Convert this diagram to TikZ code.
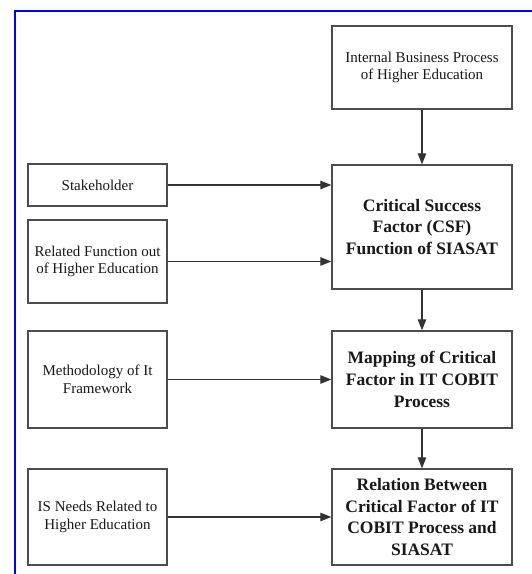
\documentclass[tikz,border=0pt]{standalone}
\usepackage{fontspec}
\setmainfont{Liberation Serif}
\usetikzlibrary{arrows.meta}
\begin{document}
\begin{tikzpicture}[x=1pt,y=-1pt,
  box/.style={draw=gray!60!black, line width=1.3pt, align=center, inner sep=0pt, text=black!90},
  lbox/.style={box, minimum width=139pt, font=\fontsize{15}{17.5}\selectfont},
  rbox/.style={box, minimum width=180pt, font=\fontsize{17.5}{21.7}\selectfont\bfseries},
  arr/.style={draw=black!80, line width=1.1pt, -{Triangle[length=11pt,width=8.5pt]}}]
\useasboundingbox (0,0) rectangle (532,574);
\fill[white] (0,0) rectangle (532,574);
\draw[blue, line width=2pt] (14.5,575) -- (14.5,10.5) -- (533,10.5);

\node[lbox, minimum width=180pt, minimum height=83pt] (ibp) at (422,67.5) {Internal Business Process\\of Higher Education};
\node[rbox, minimum height=124pt] (csf) at (422,227) {Critical Success\\Factor (CSF)\\Function of SIASAT};
\node[rbox, minimum height=97pt] (map) at (422,379.5) {Mapping of Critical\\Factor in IT COBIT\\Process};
\node[rbox, minimum height=96pt] (rel) at (422,517) {Relation Between\\Critical Factor of IT\\COBIT Process and\\SIASAT};

\node[lbox, minimum height=42pt] (stk) at (97.5,185) {Stakeholder};
\node[lbox, minimum height=83pt] (rf) at (97.5,261.5) {Related Function out\\of Higher Education};
\node[lbox, minimum height=97pt] (meth) at (97.5,379.5) {Methodology of It\\Framework};
\node[lbox, minimum height=96pt] (isn) at (97.5,517) {IS Needs Related to\\Higher Education};

\draw[arr] (ibp.south) -- (csf.north);
\draw[arr] (csf.south) -- (map.north);
\draw[arr] (map.south) -- (rel.north);
\draw[arr] (stk.east) -- (stk.east -| csf.west);
\draw[arr] (rf.east) -- (rf.east -| csf.west);
\draw[arr] (meth.east) -- (meth.east -| map.west);
\draw[arr] (isn.east) -- (isn.east -| rel.west);
\end{tikzpicture}
\end{document}
